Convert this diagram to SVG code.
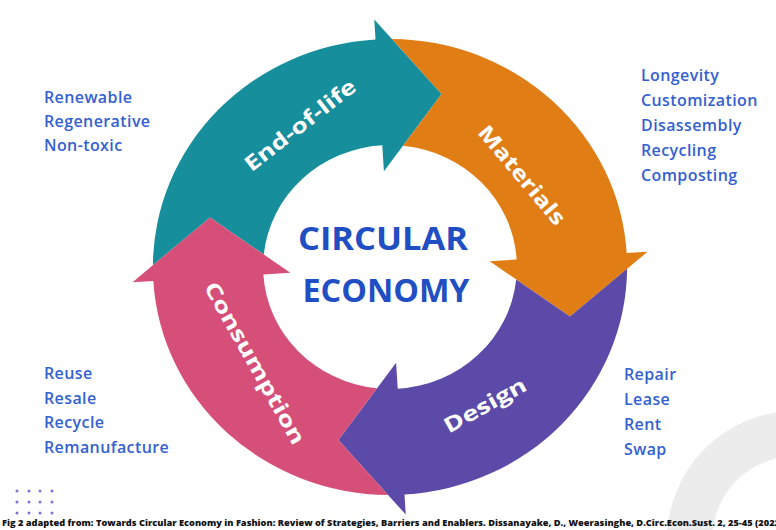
<svg xmlns="http://www.w3.org/2000/svg" xmlns:xlink="http://www.w3.org/1999/xlink" width="776" height="530" viewBox="0 0 776 530">
<style>
.lbl{font-family:"Open Sans","Noto Sans",sans-serif;font-weight:700;font-size:21px;fill:#ffffff;text-anchor:middle}
.lst{font-family:"Open Sans","Noto Sans",sans-serif;font-weight:600;font-size:16px;letter-spacing:0.4px;fill:#3461d1}
.ttl{font-family:"Open Sans","Noto Sans",sans-serif;font-weight:700;font-size:32px;fill:#1f4fc2;text-anchor:middle}
.cap{font-family:"Open Sans","Noto Sans",sans-serif;font-weight:800;font-size:8.6px;fill:#111111}
.dot{fill:#7b73d6}
</style>
<defs>
<path id="arrow" d="M -227.45 -15.76 A 228 228 0 0 1 0 -228 L 0 -248 L 60.09 -169.68 L 0 -96 L 0 -122 A 122 122 0 0 0 -120.37 -19.88 L -169.68 -60.09 Z"/>
</defs>
<rect width="776" height="530" fill="#ffffff"/>
<circle cx="796" cy="540" r="106.5" fill="none" stroke="#ececec" stroke-width="45"/>
<g id="connectors"/>
<g id="node-end-of-life">
<g transform="translate(390,267) scale(1.04,1)"><use xlink:href="#arrow" href="#arrow" transform="rotate(-3.5)" fill="#178e9c"/></g>
<text class="lbl" x="300" y="125" dy="0.36em" transform="rotate(-38 300 125)" textLength="135" lengthAdjust="spacingAndGlyphs">End-of-life</text>
</g>
<g id="node-materials">
<g transform="translate(390,267) scale(1.04,1)"><use xlink:href="#arrow" href="#arrow" transform="rotate(86.5)" fill="#e17d15"/></g>
<text class="lbl" x="522" y="175" dy="0.36em" transform="rotate(50 522 175)" textLength="123" lengthAdjust="spacingAndGlyphs">Materials</text>
</g>
<g id="node-design">
<g transform="translate(390,267) scale(1.04,1)"><use xlink:href="#arrow" href="#arrow" transform="rotate(176.5)" fill="#5b4aa8"/></g>
<text class="lbl" x="485" y="405" dy="0.36em" transform="rotate(-29 485 405)" textLength="91" lengthAdjust="spacingAndGlyphs">Design</text>
</g>
<g id="node-consumption">
<g transform="translate(390,267) scale(1.04,1)"><use xlink:href="#arrow" href="#arrow" transform="rotate(266.5)" fill="#d64f78"/></g>
<text class="lbl" x="255" y="363" dy="0.36em" transform="rotate(60.6 255 363)" textLength="183" lengthAdjust="spacingAndGlyphs">Consumption</text>
</g>
<g id="node-center">
<text class="ttl" x="383" y="250" textLength="170" lengthAdjust="spacingAndGlyphs">CIRCULAR</text>
<text class="ttl" x="386" y="302" textLength="167" lengthAdjust="spacingAndGlyphs">ECONOMY</text>
</g>
<g id="list-end-of-life" class="lst">
<text x="44" y="103">Renewable</text>
<text x="44" y="127">Regenerative</text>
<text x="44" y="151">Non-toxic</text>
</g>
<g id="list-materials" class="lst">
<text x="641" y="81">Longevity</text>
<text x="641" y="106">Customization</text>
<text x="641" y="131">Disassembly</text>
<text x="641" y="156">Recycling</text>
<text x="641" y="181">Composting</text>
</g>
<g id="list-design" class="lst">
<text x="624" y="380">Repair</text>
<text x="624" y="405">Lease</text>
<text x="624" y="430">Rent</text>
<text x="624" y="455">Swap</text>
</g>
<g id="list-consumption" class="lst">
<text x="44" y="379">Reuse</text>
<text x="44" y="404">Resale</text>
<text x="44" y="428">Recycle</text>
<text x="44" y="453">Remanufacture</text>
</g>
<g id="dots">
<circle class="dot" cx="17" cy="491" r="1.5"/><circle class="dot" cx="29" cy="491" r="1.5"/><circle class="dot" cx="40" cy="491" r="1.5"/><circle class="dot" cx="52" cy="491" r="1.5"/>
<circle class="dot" cx="17" cy="502" r="1.5"/><circle class="dot" cx="29" cy="502" r="1.5"/><circle class="dot" cx="40" cy="502" r="1.5"/><circle class="dot" cx="52" cy="502" r="1.5"/>
<circle class="dot" cx="17" cy="513" r="1.5"/><circle class="dot" cx="29" cy="513" r="1.5"/><circle class="dot" cx="40" cy="513" r="1.5"/><circle class="dot" cx="52" cy="513" r="1.5"/>
</g>
<text class="cap" x="2" y="526" textLength="778" lengthAdjust="spacingAndGlyphs">Fig 2  adapted from: Towards Circular Economy in Fashion: Review of Strategies, Barriers and Enablers. Dissanayake, D., Weerasinghe, D.Circ.Econ.Sust. 2, 25-45 (2022</text>
</svg>
